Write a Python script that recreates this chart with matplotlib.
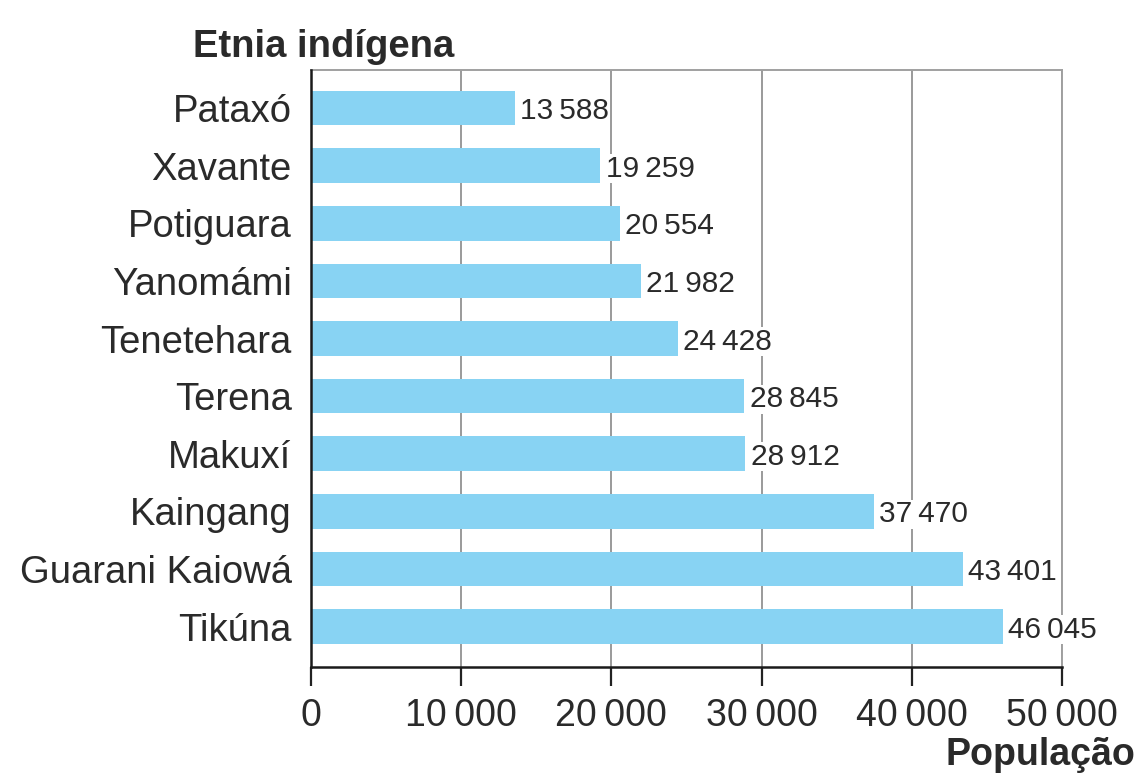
import matplotlib
matplotlib.use("Agg")
import matplotlib.pyplot as plt
from matplotlib.ticker import FixedLocator

plt.rcParams['font.family'] = ['Liberation Sans', 'DejaVu Sans']

etnias = ["Pataxó", "Xavante", "Potiguara", "Yanomámi", "Tenetehara",
          "Terena", "Makuxí", "Kaingang", "Guarani Kaiowá", "Tikúna"]
populacao = [13588, 19259, 20554, 21982, 24428,
             28845, 28912, 37470, 43401, 46045]
xticks = [0, 10000, 20000, 30000, 40000, 50000]


def fmt(v):
    return f"{v:,}".replace(",", "\u2009")


fig = plt.figure(figsize=(11.4, 7.76), dpi=100)
ax = fig.add_axes([0.2728, 0.1405, 0.9316 - 0.2728, 0.9098 - 0.1405])

bar_color = "#88d3f3"
ypos = list(range(len(etnias)))
ax.barh(ypos, populacao, height=0.6, color=bar_color, zorder=2)

for y, v in zip(ypos, populacao):
    ax.text(v + 350, y, fmt(v), va="center_baseline", ha="left", fontsize=21.5,
            color="#2a2a2a", zorder=4,
            bbox=dict(facecolor="white", edgecolor="none", pad=0.5))

ax.set_xlim(0, 50000)
ax.set_ylim(9.7, -0.66)
ax.set_yticks(ypos)
ax.set_yticklabels(etnias, fontsize=27.5, color="#2a2a2a")
ax.tick_params(axis="y", length=0, pad=14)

ax.xaxis.set_major_locator(FixedLocator(xticks))
ax.set_xticklabels([fmt(t) for t in xticks], fontsize=27, color="#2a2a2a")
ax.tick_params(axis="x", length=14, width=1.6, direction="out", pad=8,
               color="#222222")

ax.grid(axis="x", color="#9a9a9a", linewidth=1.4, zorder=1)
ax.set_axisbelow(True)

for side in ("top", "right"):
    ax.spines[side].set_color("#a0a0a0")
    ax.spines[side].set_linewidth(1.4)
for side in ("left", "bottom"):
    ax.spines[side].set_color("#1a1a1a")
    ax.spines[side].set_linewidth(1.8)
    ax.spines[side].set_zorder(5)

fig.text(193 / 1140, 1 - 57 / 776, "Etnia indígena", fontsize=27.5,
         fontweight="bold", color="#2a2a2a", ha="left", va="baseline")
fig.text(1135 / 1140, 1 - 765 / 776, "População", fontsize=27,
         fontweight="bold", color="#2a2a2a", ha="right", va="baseline")

fig.savefig("out.png", dpi=100, facecolor="white")
